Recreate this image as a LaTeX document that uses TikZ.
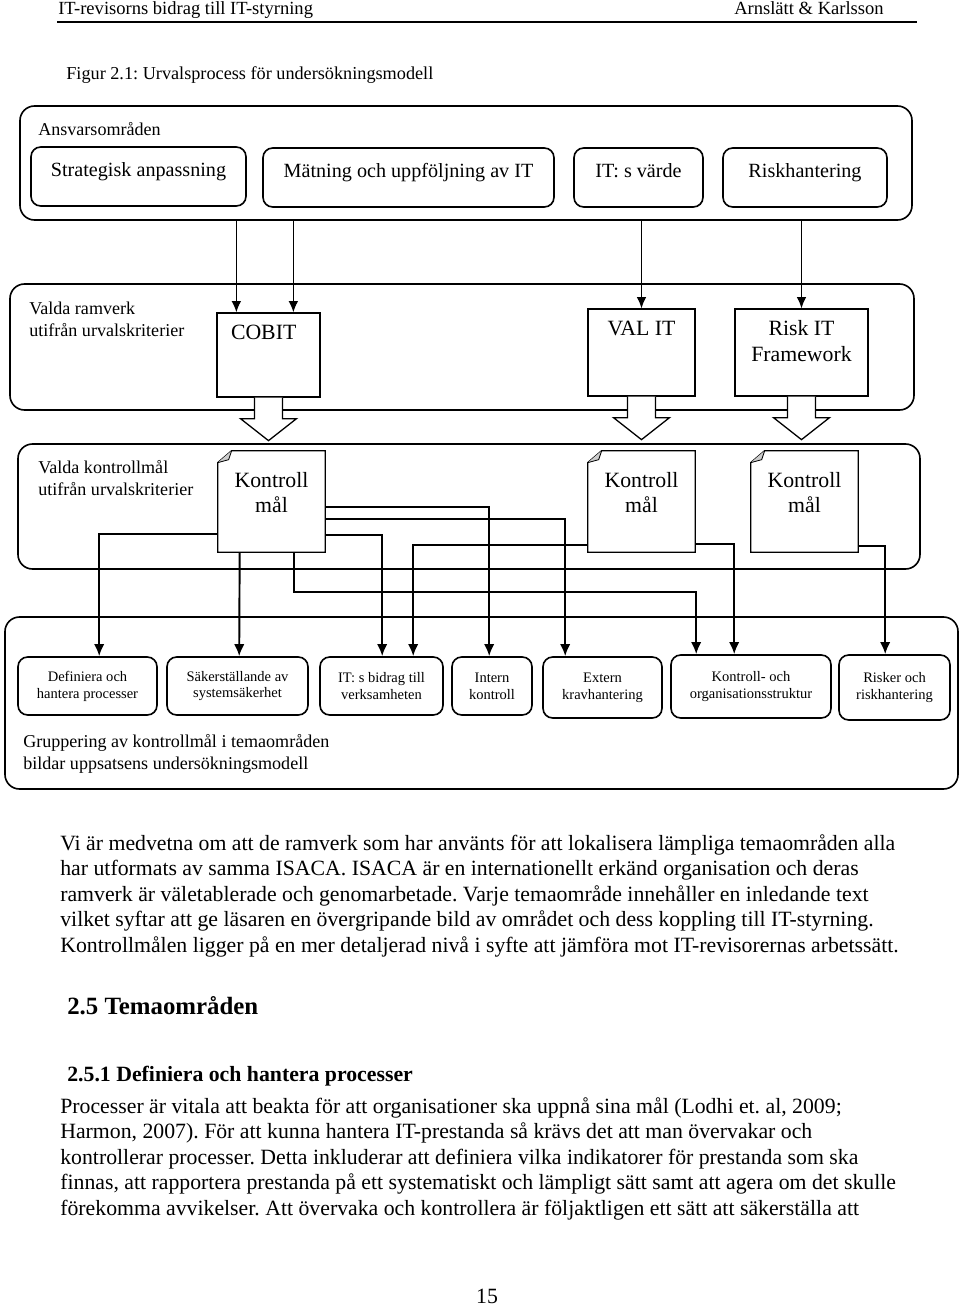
\documentclass[tikz,border=0pt]{standalone}
\usepackage{fontspec}
\setmainfont{Liberation Serif}
\usepackage{tikz}
\usetikzlibrary{
        arrows,
        shapes,
        positioning,
        arrows.meta,
        calc
    }

\newcommand{\pxu}{0.62pt}
\frenchspacing

\begin{document}
\begin{tikzpicture}
[x=0.62pt, y=-0.62pt,
baseshape/.style={draw=black, line width=1pt, inner sep=0pt},
outerbox/.style={baseshape, rectangle, rounded corners=9pt},
areabox/.style={baseshape, rectangle, rounded corners=6pt, minimum height=59*\pxu},
frame/.style={baseshape, rectangle, line width=0.8pt},
docbox/.style={rectangle, inner sep=0pt, minimum width=107*\pxu, minimum height=101*\pxu},
themebox/.style={baseshape, rectangle, rounded corners=6pt, font=\fontsize{9}{10.5}\selectfont, align=center},
toptext/.style={anchor=north, align=center, inner sep=0pt},
areatext/.style={toptext, font=\fontsize{12.5}{15}\selectfont, yshift=-10pt},
frametext/.style={toptext, font=\fontsize{13.5}{16}\selectfont, yshift=-7.5pt},
doctext/.style={toptext, font=\fontsize{13.5}{15.5}\selectfont, yshift=-13pt},
boxlabel/.style={anchor=west, align=left, inner sep=0pt, font=\fontsize{11.2}{13.6}\selectfont},
pagetext/.style={inner sep=0pt, font=\fontsize{13.5}{15.8}\selectfont},
headtext/.style={inner sep=0pt, font=\fontsize{11.5}{14}\selectfont},
arrow/.style={line width=0.8pt, -{Latex[length=7pt,width=6pt]}},
link/.style={line width=1.2pt, -{Latex[length=7.5pt,width=6.5pt]}},
fat/.style={line width=0.8pt, fill=white},
]
\useasboundingbox (0,0) rectangle (960,1306);

% page head
\node (head) [headtext, anchor=base west] at (58,14.5) {IT-revisorns bidrag till IT-styrning};
\node (authors) [headtext, anchor=base east] at (884,14.5) {Arnslätt \& Karlsson};
\draw[line width=1.2pt] (57,22) -- (917,22);
\node (caption) [headtext, anchor=base west, font=\fontsize{11.3}{14}\selectfont] at (66,79) {Figur 2.1: Urvalsprocess för undersökningsmodell};

% ansvarsomraden
\node (ans) [outerbox, minimum width=892*\pxu, minimum height=114*\pxu] at (466,163) {};
\node (anslbl) [boxlabel] at (38,129) {Ansvarsområden};
\node (strat) [areabox, minimum width=215*\pxu, label={[areatext]north:Strategisk anpassning}] at (138.5,176.5) {};
\node (matn) [areabox, minimum width=291*\pxu, label={[areatext]north:Mätning och uppföljning av IT}] at (408.5,177.5) {};
\node (varde) [areabox, minimum width=129*\pxu, label={[areatext]north:IT: s värde}] at (638.5,177.5) {};
\node (risk) [areabox, minimum width=164*\pxu, label={[areatext]north:Riskhantering}] at (805,177.5) {};

% ramverk
\node (ram) [outerbox, minimum width=904*\pxu, minimum height=126*\pxu] at (462,347) {};
\node (ramlbl) [boxlabel] at (29,319) {Valda ramverk\\utifrån urvalskriterier};
\node (cobit) [frame, minimum width=103*\pxu, minimum height=84*\pxu, label={[frametext, xshift=-3pt]north:COBIT}] at (268.5,355) {};
\node (valit) [frame, minimum width=107*\pxu, minimum height=87*\pxu, label={[frametext]north:VAL IT}] at (641.5,352.5) {};
\node (riskit) [frame, minimum width=133*\pxu, minimum height=87*\pxu, label={[frametext]north:Risk IT\\Framework}] at (801.5,352.5) {};

\coordinate (c1) at ([xshift=20*\pxu]cobit.north west);
\coordinate (c2) at ([xshift=77*\pxu]cobit.north west);
\draw[arrow] (ans.south -| c1) -- (c1);
\draw[arrow] (ans.south -| c2) -- (c2);
\draw[arrow] (ans.south -| valit.north) -- (valit.north);
\draw[arrow] (ans.south -| riskit.north) -- (riskit.north);

\foreach \f in {cobit,valit,riskit}
  \filldraw[fat] ([xshift=-14*\pxu]\f.south) -- ++(0,21) -- ++(-14,0) -- ++(28,22) -- ++(28,-22) -- ++(-14,0) -- ++(0,-21);

% kontrollmal
\node (km) [outerbox, minimum width=902*\pxu, minimum height=125*\pxu] at (469,506.5) {};
\node (kmlbl) [boxlabel] at (38,478) {Valda kontrollmål\\utifrån urvalskriterier};
\node (km1) [docbox, label={[doctext]north:Kontroll\\mål}] at (271.5,501.5) {};
\node (km2) [docbox, label={[doctext]north:Kontroll\\mål}] at (641.5,501.5) {};
\node (km3) [docbox, label={[doctext]north:Kontroll\\mål}] at (804.5,501.5) {};
\foreach \k in {km1,km2,km3}{
  \draw[line width=0.8pt] ($(\k.north west)+(14,0)$) -- (\k.north east) -- (\k.south east) -- (\k.south west) -- ($(\k.north west)+(0,12)$) -- cycle;
  \draw[line width=0.5pt, fill=black!20] ($(\k.north west)+(14,0)$) -- ($(\k.north west)+(11,9)$) -- ($(\k.north west)+(0,12)$);
}

% temaomraden
\node (grp) [outerbox, minimum width=953*\pxu, minimum height=172*\pxu] at (481.5,703) {};
\node (grplbl) [boxlabel] at (23,753.5) {Gruppering av kontrollmål i temaområden\\bildar uppsatsens undersökningsmodell};
\node (b1) [themebox, minimum width=139*\pxu, minimum height=58*\pxu] at (87.5,686) {Definiera och\\hantera processer};
\node (b2) [themebox, minimum width=141*\pxu, minimum height=58*\pxu] at (237.5,686) {Säkerställande av\\systemsäkerhet};
\node (b3) [themebox, minimum width=123*\pxu, minimum height=58*\pxu] at (381.5,686) {IT: s bidrag till\\verksamheten};
\node (b4) [themebox, minimum width=80*\pxu, minimum height=58*\pxu] at (492,686) {Intern\\kontroll};
\node (b5) [themebox, minimum width=119*\pxu, minimum height=61*\pxu] at (602.5,687.5) {Extern\\kravhantering};
\node (b6) [themebox, minimum width=160*\pxu, minimum height=63*\pxu] at (751,686.5) {Kontroll- och\\organisationsstruktur};
\node (b7) [themebox, minimum width=111*\pxu, minimum height=65*\pxu] at (894.5,687.5) {Risker och\\riskhantering};

\draw[link] ([yshift=-83*\pxu]km1.north west) -| ([xshift=82*\pxu]b1.north west);
\draw[link] ([xshift=22*\pxu]km1.south west) -- ([xshift=73*\pxu]b2.north west);
\draw[link] ([yshift=-84*\pxu]km1.north east) -| ([xshift=63*\pxu]b3.north west);
\draw[link] ([yshift=-56*\pxu]km1.north east) -| ([xshift=38*\pxu]b4.north west);
\draw[link] ([yshift=-68*\pxu]km1.north east) -| ([xshift=23*\pxu]b5.north west);
\draw[link] ([xshift=76*\pxu]km1.south west) -- ++(0,40) -| ([xshift=26*\pxu]b6.north west);
\draw[link] ([yshift=-94*\pxu]km2.north west) -| ([xshift=94*\pxu]b3.north west);
\draw[link] ([yshift=-93*\pxu]km2.north east) -| ([xshift=64*\pxu]b6.north west);
\draw[link] ([yshift=-95*\pxu]km3.north east) -| ([xshift=47*\pxu]b7.north west);

% page text
\node (para1) [pagetext, anchor=north west, align=left] at (60,834) {Vi är medvetna om att de ramverk som har använts för att lokalisera lämpliga temaområden alla\\har utformats av samma ISACA. ISACA är en internationellt erkänd organisation och deras\\ramverk är väletablerade och genomarbetade. Varje temaområde innehåller en inledande text\\vilket syftar att ge läsaren en övergripande bild av området och dess koppling till IT-styrning.\\Kontrollmålen ligger på en mer detaljerad nivå i syfte att jämföra mot IT-revisorernas arbetssätt.};
\node (sec) [pagetext, anchor=base west, font=\fontsize{15.4}{18}\selectfont\bfseries] at (67,1014) {2.5 Temaområden};
\node (subsec) [pagetext, anchor=base west, font=\fontsize{13.5}{16}\selectfont\bfseries] at (67,1081) {2.5.1 Definiera och hantera processer};
\node (para2) [pagetext, anchor=north west, align=left] at (60,1097) {Processer är vitala att beakta för att organisationer ska uppnå sina mål (Lodhi et. al, 2009;\\Harmon, 2007). För att kunna hantera IT-prestanda så krävs det att man övervakar och\\kontrollerar processer. Detta inkluderar att definiera vilka indikatorer för prestanda som ska\\finnas, att rapportera prestanda på ett systematiskt och lämpligt sätt samt att agera om det skulle\\förekomma avvikelser. Att övervaka och kontrollera är följaktligen ett sätt att säkerställa att};
\node (pageno) [pagetext, anchor=base] at (487,1303) {15};
\end{tikzpicture}
\end{document}
